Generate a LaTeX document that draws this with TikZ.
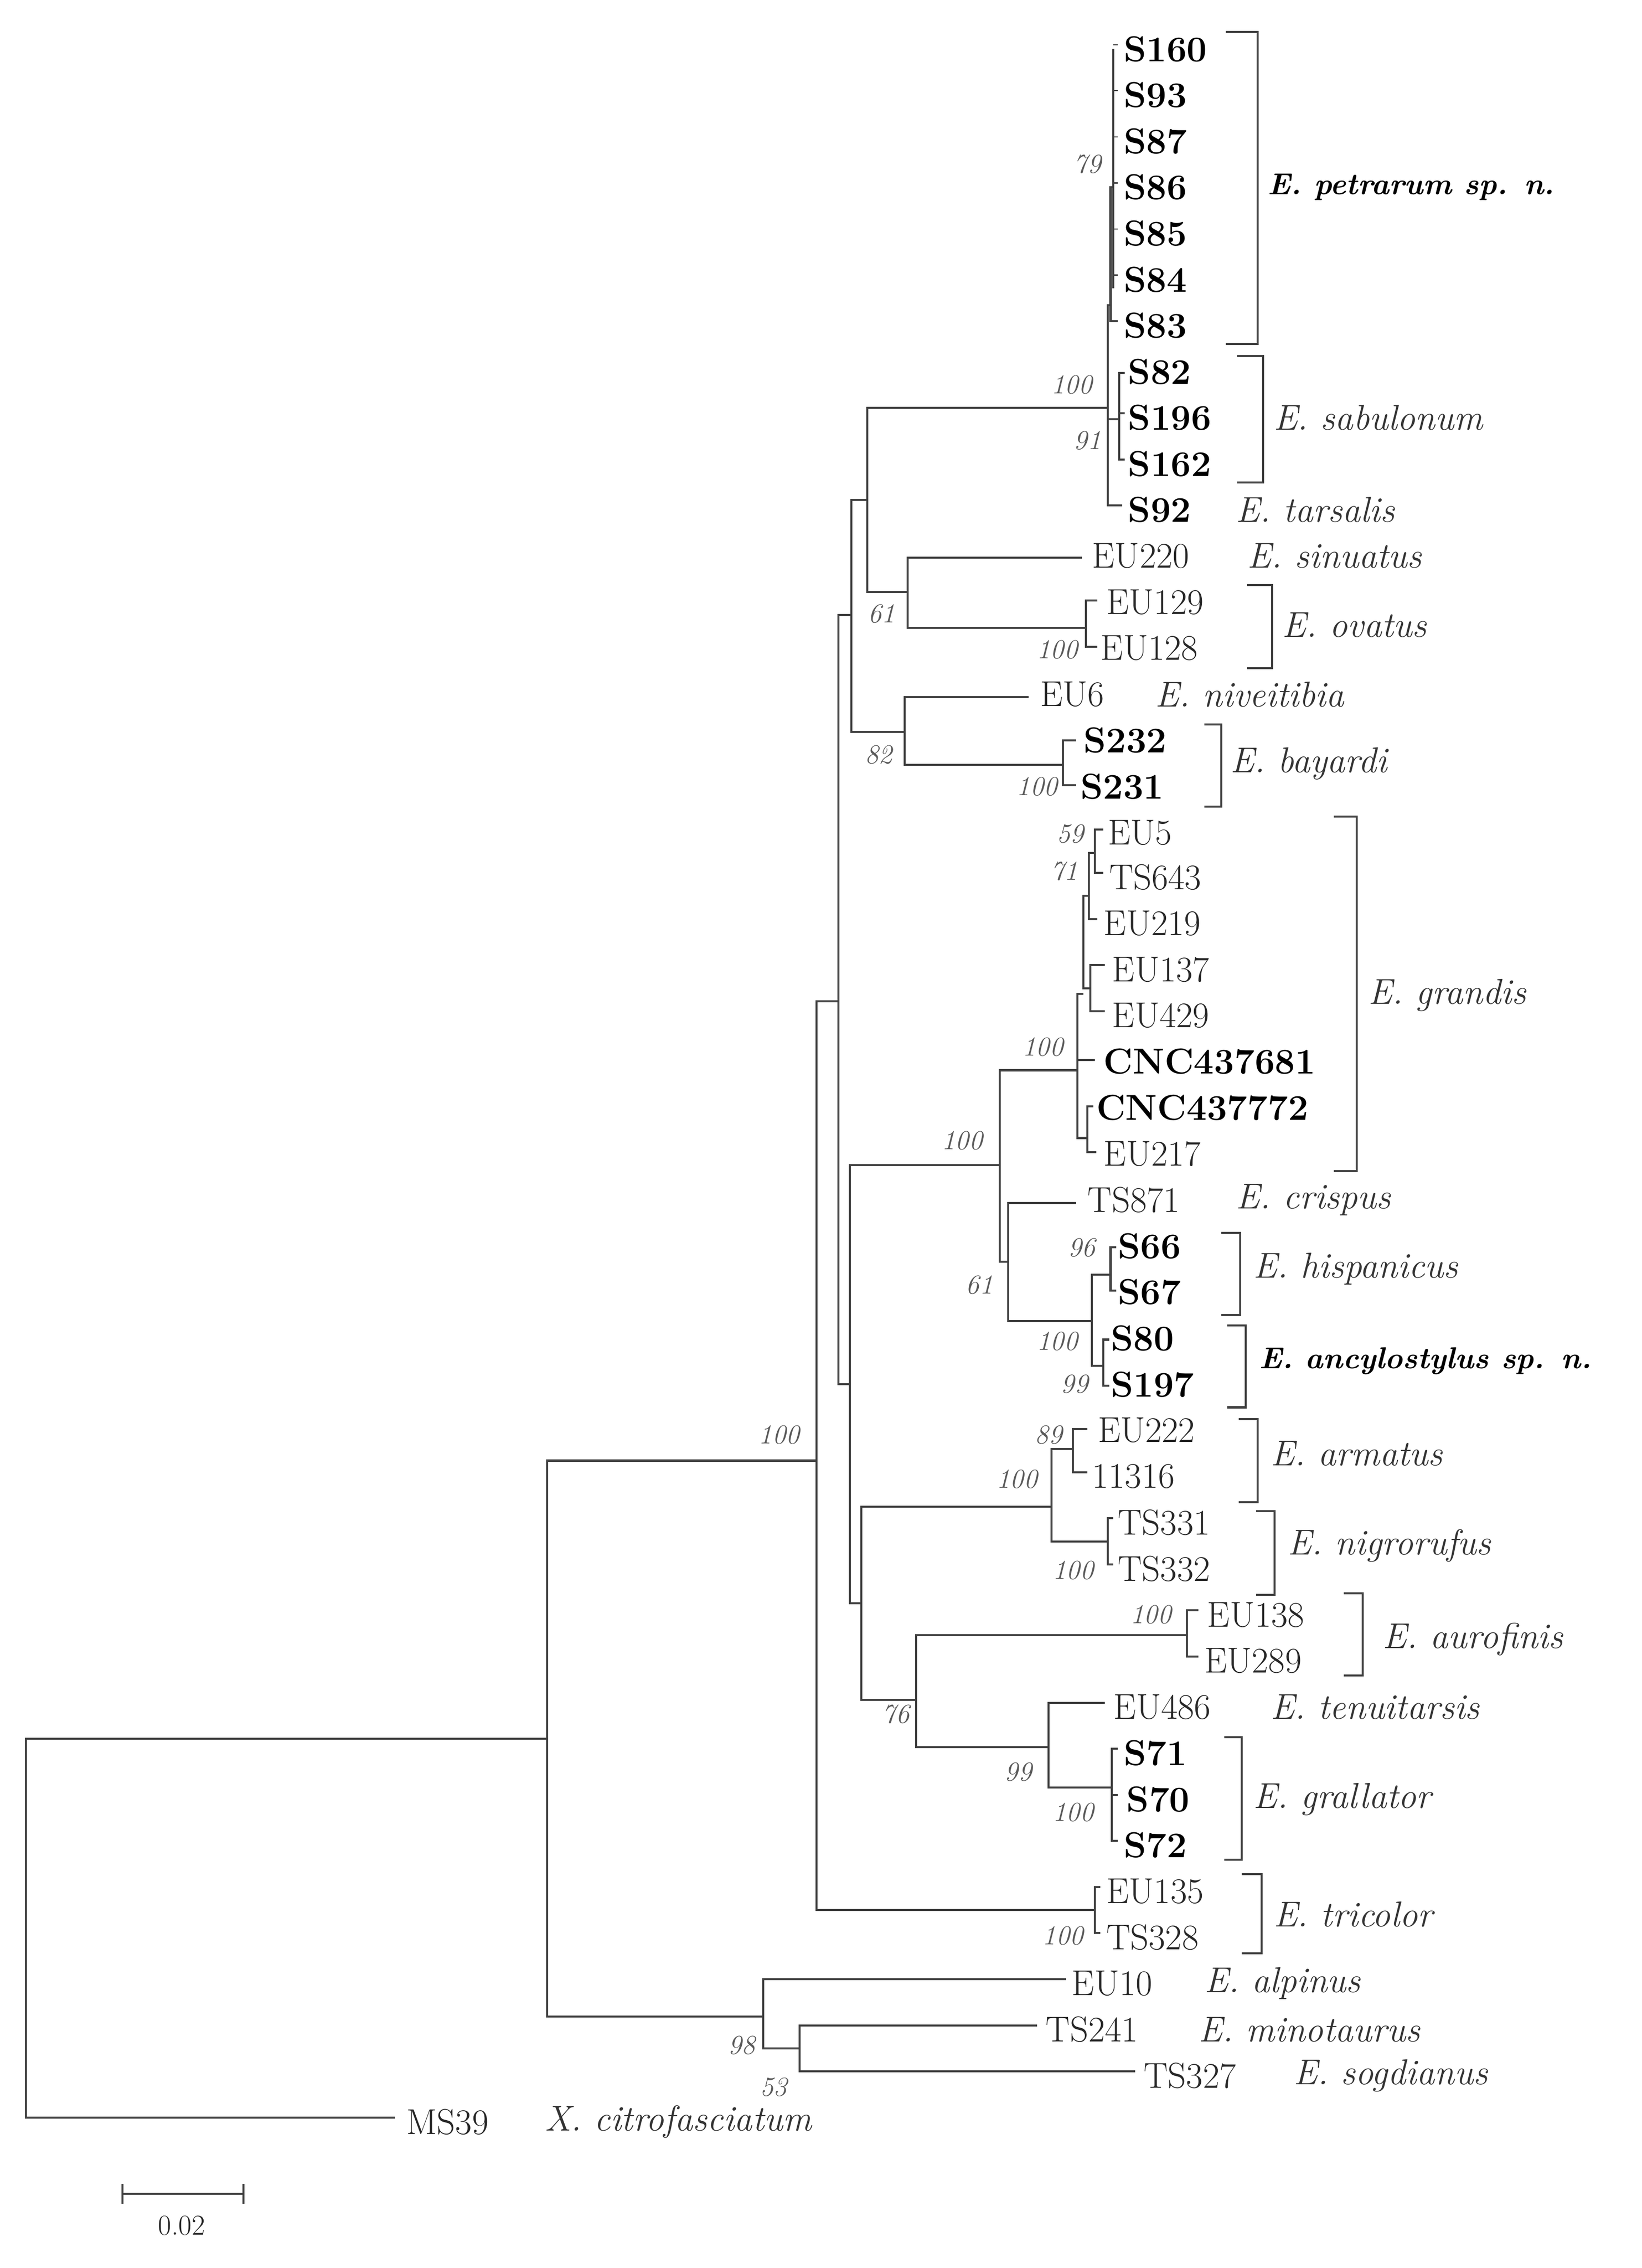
\documentclass[tikz,border=0pt]{standalone}
\begin{document}
\begin{tikzpicture}[x=1pt,y=-1pt,
 br/.style={line width=1.4pt,color=black!75},
 lf/.style={anchor=west,inner sep=0pt,font=\fontsize{25}{27}\selectfont,text=black!85},
 lb/.style={lf,font=\fontsize{25}{27}\selectfont\bfseries,text=black},
 sp/.style={anchor=west,inner sep=0pt,font=\fontsize{25}{27}\selectfont\itshape,text=black!80},
 spb/.style={sp,font=\fontsize{21}{23}\selectfont\bfseries\itshape,text=black},
 bs/.style={inner sep=0pt,font=\fontsize{19}{21}\selectfont\itshape,text=black!65},
 bk/.style={line width=1.4pt,color=black!75}]
\useasboundingbox (0,0) rectangle (1140,1574.5);
% ---- backbone
\draw[br] (274,1470) -- (18,1470) -- (18,1207) -- (380,1207);
\draw[br] (567,1014) -- (380,1014) -- (380,1400) -- (530,1400);
\draw[br] (740,1374) -- (530,1374) -- (530,1422) -- (555,1422);
\draw[br] (720,1406) -- (555,1406) -- (555,1438) -- (788,1438);
\draw[br] (582,695) -- (567,695) -- (567,1326) -- (760,1326);
\draw[br] (764,1310) -- (760,1310) -- (760,1342) -- (764,1342);
\draw[br] (591,427) -- (582,427) -- (582,961) -- (590,961);
\draw[br] (602,347) -- (591,347) -- (591,508) -- (628,508);
\draw[br] (769,283) -- (602,283) -- (602,411) -- (630,411);
% clade A
\draw[br] (771,212) -- (769,212) -- (769,351) -- (779,351);
\draw[br] (769,291) -- (777,291);
\draw[br] (773,130) -- (771,130) -- (771,223) -- (776,223);
\draw[br] (773,34) -- (773,200);
\foreach \y in {31,63,95,127,159,191} \draw[br,line width=0.8pt] (773,\y) -- (776,\y);
\draw[br] (781,259) -- (777,259) -- (777,319) -- (781,319);
\draw[br] (777,287) -- (781,287);
% sinuatus / ovatus
\draw[br] (751,387) -- (630,387) -- (630,436) -- (754,436);
\draw[br] (762,417) -- (754,417) -- (754,449) -- (762,449);
% EU6 / bayardi
\draw[br] (714,484) -- (628,484) -- (628,531) -- (738,531);
\draw[br] (747,514) -- (738,514) -- (738,545) -- (747,545);
% F
\draw[br] (694,809) -- (590,809) -- (590,1113) -- (598,1113);
\draw[br] (748,743) -- (694,743) -- (694,876) -- (700,876);
\draw[br] (747,835) -- (700,835) -- (700,917) -- (758,917);
\draw[br] (771,885) -- (758,885) -- (758,948) -- (766,948);
\draw[br] (775,866) -- (771,866) -- (771,896) -- (775,896);
\draw[br] (770,930) -- (766,930) -- (766,962) -- (770,962);
% grandis
\draw[br] (752,690) -- (748,690) -- (748,790) -- (755,790);
\draw[br] (756,622) -- (752,622) -- (752,686) -- (757,686);
\draw[br] (760,592) -- (756,592) -- (756,638) -- (762,638);
\draw[br] (766,576) -- (760,576) -- (760,606) -- (766,606);
\draw[br] (767,670) -- (757,670) -- (757,702) -- (767,702);
\draw[br] (748,736) -- (760,736);
\draw[br] (759,768) -- (755,768) -- (755,800) -- (761,800);
% G
\draw[br] (730,1046) -- (598,1046) -- (598,1180) -- (636,1180);
\draw[br] (745,1006) -- (730,1006) -- (730,1070) -- (769,1070);
\draw[br] (755,992) -- (745,992) -- (745,1022) -- (755,1022);
\draw[br] (773,1054) -- (769,1054) -- (769,1086) -- (773,1086);
\draw[br] (824,1135) -- (636,1135) -- (636,1213) -- (728,1213);
\draw[br] (832,1118) -- (824,1118) -- (824,1150) -- (832,1150);
\draw[br] (767,1182) -- (728,1182) -- (728,1241) -- (772,1241);
\draw[br] (776,1214) -- (772,1214) -- (772,1278) -- (776,1278);
\draw[br] (772,1246) -- (776,1246);
% ---- leaf labels
\node[lb] (s160) at (780,34) {S160};
\node[lb] (s93) at (780,66) {S93};
\node[lb] (s87) at (780,98) {S87};
\node[lb] (s86) at (780,130) {S86};
\node[lb] (s85) at (780,162) {S85};
\node[lb] (s84) at (780,194) {S84};
\node[lb] (s83) at (780,226) {S83};
\node[lb] (s82) at (783,258) {S82};
\node[lb] (s196) at (783,290) {S196};
\node[lb] (s162) at (783,322) {S162};
\node[lb] (s92) at (783,354) {S92};
\node[lf] (eu220) at (758,386) {EU220};
\node[lf] (eu129) at (768,418) {EU129};
\node[lf] (eu128) at (764,450) {EU128};
\node[lf] (eu6) at (722,482) {EU6};
\node[lb] (s232) at (752,514) {S232};
\node[lb] (s231) at (750,546) {S231};
\node[lf] (eu5) at (769,578) {EU5};
\node[lf] (ts643) at (770,609) {TS643};
\node[lf] (eu219) at (766,641) {EU219};
\node[lf] (eu137) at (772,673) {EU137};
\node[lf] (eu429) at (772,705) {EU429};
\node[lb] (cnc1) at (766,737) {CNC437681};
\node[lb] (cnc2) at (761,769) {CNC437772};
\node[lf] (eu217) at (766,801) {EU217};
\node[lf] (ts871) at (755,833) {TS871};
\node[lb] (s66) at (776,865) {S66};
\node[lb] (s67) at (776,897) {S67};
\node[lb] (s80) at (771,929) {S80};
\node[lb] (s197) at (771,961) {S197};
\node[lf] (eu222) at (762,993) {EU222};
\node[lf] (n11316) at (758,1025) {11316};
\node[lf] (ts331) at (776,1057) {TS331};
\node[lf] (ts332) at (776,1089) {TS332};
\node[lf] (eu138) at (838,1121) {EU138};
\node[lf] (eu289) at (836,1153) {EU289};
\node[lf] (eu486) at (773,1185) {EU486};
\node[lb] (s71) at (780,1217) {S71};
\node[lb] (s70) at (782,1249) {S70};
\node[lb] (s72) at (780,1281) {S72};
\node[lf] (eu135) at (768,1313) {EU135};
\node[lf] (ts328) at (768,1345) {TS328};
\node[lf] (eu10) at (744,1377) {EU10};
\node[lf] (ts241) at (726,1409) {TS241};
\node[lf] (ts327) at (794,1441) {TS327};
\node[lf] (ms39) at (282,1473) {MS39};
% ---- brackets
\draw[bk] (851,22) -- (873,22) -- (873,239) -- (851,239);
\draw[bk] (859,247) -- (877,247) -- (877,335) -- (859,335);
\draw[bk] (866,406) -- (883,406) -- (883,464) -- (866,464);
\draw[bk] (836,503) -- (848,503) -- (848,560) -- (836,560);
\draw[bk] (926,567) -- (942,567) -- (942,813) -- (926,813);
\draw[bk] (848,856) -- (861,856) -- (861,913) -- (848,913);
\draw[bk] (852,920) -- (865,920) -- (865,977) -- (852,977);
\draw[bk] (860,985) -- (873,985) -- (873,1043) -- (860,1043);
\draw[bk] (872,1049) -- (885,1049) -- (885,1107) -- (872,1107);
\draw[bk] (933,1106) -- (946,1106) -- (946,1163) -- (933,1163);
\draw[bk] (850,1206) -- (862,1206) -- (862,1291) -- (850,1291);
\draw[bk] (862,1301) -- (876,1301) -- (876,1356) -- (862,1356);
% ---- species
\node[spb] (petr) at (880,130) {E. petrarum sp. n.};
\node[sp] (sabu) at (884,290) {E.\ sabulonum};
\node[sp] (tars) at (858,354) {E.\ tarsalis};
\node[sp] (sinu) at (866,386) {E.\ sinuatus};
\node[sp] (ovat) at (890,434) {E.\ ovatus};
\node[sp] (nive) at (802,482) {E.\ niveitibia};
\node[sp] (baya) at (854,530) {E.\ bayardi};
\node[sp] (gran) at (950,691) {E.\ grandis};
\node[sp] (cris) at (858,833) {E.\ crispus};
\node[sp] (hisp) at (870,881) {E.\ hispanicus};
\node[spb] (ancy) at (874,945) {E. ancylostylus sp. n.};
\node[sp] (arma) at (882,1009) {E.\ armatus};
\node[sp] (nigr) at (894,1073) {E.\ nigrorufus};
\node[sp] (auro) at (960,1138) {E.\ aurofinis};
\node[sp] (tenu) at (882,1185) {E.\ tenuitarsis};
\node[sp] (gral) at (870,1249) {E.\ grallator};
\node[sp] (tric) at (884,1329) {E.\ tricolor};
\node[sp] (alpi) at (836,1377) {E.\ alpinus};
\node[sp] (mino) at (832,1409) {E.\ minotaurus};
\node[sp] (sogd) at (898,1441) {E.\ sogdianus};
\node[sp] (citr) at (378,1473) {X.\ citrofasciatum};
% ---- bootstrap
\node[bs] (b79) at (755,114) {79};
\node[bs] (b100a) at (744,267) {100};
\node[bs] (b91) at (755,306) {91};
\node[bs] (b61a) at (612,426) {61};
\node[bs] (b100b) at (734,451) {100};
\node[bs] (b82) at (610,524) {82};
\node[bs] (b100c) at (720,546) {100};
\node[bs] (b59) at (743,579) {59};
\node[bs] (b71) at (739,605) {71};
\node[bs] (b100d) at (724,727) {100};
\node[bs] (b100e) at (668,792) {100};
\node[bs] (b96) at (751,866) {96};
\node[bs] (b61b) at (680,892) {61};
\node[bs] (b100f) at (734,931) {100};
\node[bs] (b99a) at (746,961) {99};
\node[bs] (b100g) at (541,996) {100};
\node[bs] (b89) at (728,996) {89};
\node[bs] (b100h) at (706,1027) {100};
\node[bs] (b100i) at (745,1090) {100};
\node[bs] (b100j) at (799,1121) {100};
\node[bs] (b76) at (622,1190) {76};
\node[bs] (b99b) at (707,1230) {99};
\node[bs] (b100k) at (745,1258) {100};
\node[bs] (b100l) at (738,1344) {100};
\node[bs] (b98) at (515,1420) {98};
\node[bs] (b53) at (537,1449) {53};
% ---- scale bar
\draw[br] (85,1516) -- (85,1530) (85,1523) -- (169,1523) (169,1516) -- (169,1530);
\node[lf,anchor=center,font=\fontsize{20}{22}\selectfont] (scale) at (126,1545) {0.02};
\end{tikzpicture}
\end{document}
